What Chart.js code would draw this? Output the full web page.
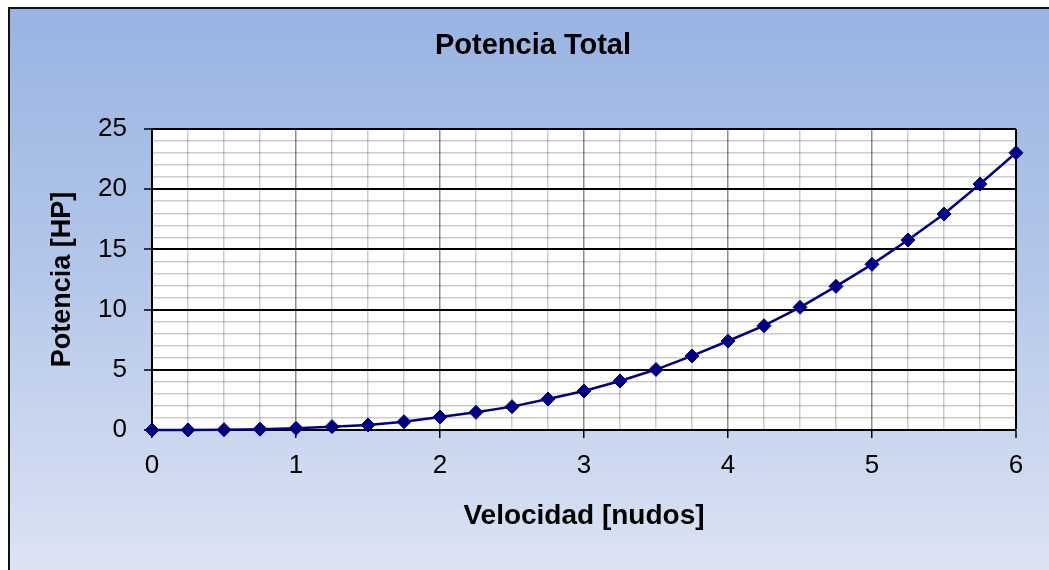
<!DOCTYPE html>
<html>
<head>
<meta charset="utf-8">
<title>Potencia Total</title>
<script src="https://cdn.jsdelivr.net/npm/chart.js@4.4.1/dist/chart.umd.min.js"></script>
<style>
  html, body { margin: 0; padding: 0; background: #fff; overflow: hidden; }
  .frame {
    position: absolute; left: 8px; top: 7px; width: 1070px; height: 590px;
    border-left: 2px solid #111; border-top: 2px solid #111;
    background: linear-gradient(to bottom, #99b3e2 0%, #b4c7ea 45%, #e0e6f4 100%);
  }
  #chart { position: absolute; left: 0; top: 0; }
</style>
</head>
<body>
<div class="frame"></div>
<canvas id="chart" width="1049" height="570"></canvas>
<script>
// speed in knots, power in HP
const speeds = [0, 0.25, 0.5, 0.75, 1, 1.25, 1.5, 1.75, 2, 2.25, 2.5, 2.75, 3,
  3.25, 3.5, 3.75, 4, 4.25, 4.5, 4.75, 5, 5.25, 5.5, 5.75, 6];
const power = [0, 0.01, 0.03, 0.07, 0.14, 0.28, 0.42, 0.69, 1.08, 1.47, 1.94, 2.57, 3.24,
  4.07, 5.02, 6.15, 7.39, 8.66, 10.19, 11.93, 13.76, 15.78, 17.94, 20.43, 23.03];

const chartTitle = 'Potencia Total';
const xTitle = 'Velocidad [nudos]';
const yTitle = 'Potencia [HP]';

const FONT = '"Liberation Sans", Arial, sans-serif';
const MINOR = 'rgba(0,0,0,0.2)';

// white plot area + title drawn by hand so it sits where the original has it
const framePlugin = {
  id: 'frame',
  beforeDraw(chart) {
    const { ctx, chartArea: a } = chart;
    ctx.save();
    ctx.fillStyle = '#fff';
    ctx.fillRect(a.left, a.top, a.right - a.left, a.bottom - a.top);
    ctx.restore();
  },
  afterDraw(chart) {
    const ctx = chart.ctx;
    ctx.save();
    ctx.font = 'bold 29px ' + FONT;
    ctx.fillStyle = '#000';
    ctx.textAlign = 'center';
    ctx.textBaseline = 'middle';
    ctx.fillText(chartTitle, 533, 46);
    ctx.restore();
  }
};

const ctx = document.getElementById('chart').getContext('2d');
new Chart(ctx, {
  type: 'line',
  data: {
    datasets: [{
      data: speeds.map((s, i) => ({ x: s, y: power[i] })),
      borderColor: '#000080',
      borderWidth: 2.5,
      pointStyle: 'rectRot',
      pointRadius: 7,
      pointBackgroundColor: '#000080',
      pointBorderColor: '#000080',
      pointBorderWidth: 1,
      tension: 0,
      clip: false
    }]
  },
  options: {
    responsive: false,
    animation: false,
    devicePixelRatio: 1,
    layout: { padding: { top: 129, right: 33, left: 0, bottom: 0 } },
    plugins: {
      legend: { display: false },
      tooltip: { enabled: false }
    },
    scales: {
      x: {
        type: 'linear',
        min: 0,
        max: 6,
        afterFit: scale => { scale.height = 140; },
        ticks: {
          stepSize: 0.25,
          autoSkip: false,
          maxRotation: 0,
          padding: 12,
          color: '#000',
          font: { family: FONT, size: 26 },
          callback: v => Number.isInteger(v) ? v : ''
        },
        grid: {
          color: c => {
            const v = c.tick.value;
            if (v === 6) return '#000';
            return Number.isInteger(v) ? '#8a8a8a' : MINOR;
          },
          lineWidth: c => (c.tick.value === 6 ? 2 : 1.5),
          tickColor: c => Number.isInteger(c.tick.value) ? '#000' : 'rgba(0,0,0,0)',
          tickLength: 8,
          tickWidth: 1.5
        },
        border: { color: '#000', width: 2 },
        title: {
          display: true,
          text: xTitle,
          color: '#000',
          font: { family: FONT, size: 28, weight: 'bold' },
          padding: { top: 0, bottom: 37 }
        }
      },
      y: {
        min: 0,
        max: 25,
        afterFit: scale => { scale.width = 152; },
        ticks: {
          stepSize: 1,
          autoSkip: false,
          padding: 17,
          color: '#000',
          font: { family: FONT, size: 26 },
          callback: v => (v % 5 === 0 ? v : '')
        },
        grid: {
          color: c => (c.tick.value % 5 === 0 ? '#000' : MINOR),
          lineWidth: c => (c.tick.value % 5 === 0 ? 2 : 1.5),
          tickColor: c => (c.tick.value % 5 === 0 ? '#000' : 'rgba(0,0,0,0)'),
          tickLength: 8,
          tickWidth: 1.5
        },
        border: { color: '#000', width: 2 },
        title: {
          display: true,
          text: yTitle,
          color: '#000',
          font: { family: FONT, size: 27, weight: 'bold' },
          padding: { top: 46, bottom: 0 }
        }
      }
    }
  },
  plugins: [framePlugin]
});
</script>
</body>
</html>
